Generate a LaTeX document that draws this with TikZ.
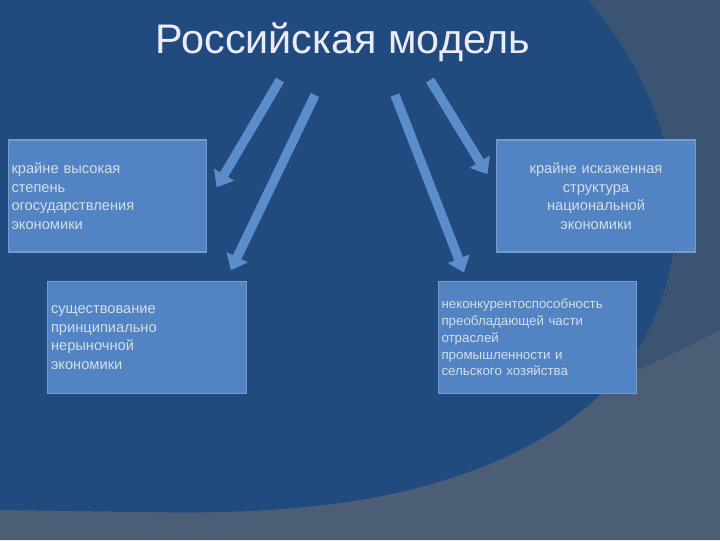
\documentclass[tikz,border=0pt]{standalone}
\usepackage{fontspec}
\setmainfont{Liberation Sans}
\usetikzlibrary{arrows.meta}
\definecolor{bgblue}{HTML}{214A7E}
\definecolor{slate}{HTML}{3C5473}
\definecolor{slate2}{HTML}{4B5E76}
\definecolor{boxblue}{HTML}{5283C2}
\definecolor{arr}{HTML}{5B8DCB}
\definecolor{txt}{HTML}{D4DEEC}
\tikzset{
  infobox/.style={draw=boxblue!80!white, line width=0.8pt, fill=boxblue, minimum width=149pt, minimum height=84pt, text width=144pt, font=\fontsize{11pt}{14pt}\selectfont, text=txt, inner sep=2pt},
  bigarrow/.style={draw=arr, line width=7pt, -{Triangle[width=17pt,length=11pt]}, shorten >=-2pt}
}
\begin{document}
\begin{tikzpicture}[x=0.75pt,y=-0.75pt]
\useasboundingbox (0,0) rectangle (720,540);
\fill[slate] (0,0) rectangle (720,540);
\fill[slate2] (0,540) -- (0,505) .. controls (300,505) and (550,420) .. (720,330) -- (720,540) -- cycle;
\fill[bgblue] (0,0) -- (588,0) .. controls (650,70) and (690,180) .. (672,260)
  .. controls (655,350) and (600,410) .. (520,450)
  .. controls (420,500) and (300,515) .. (150,512) -- (0,510) -- cycle;
\node[font=\fontsize{31pt}{34pt}\selectfont, text=white!92!blue] (title) at (343,42) {Российская модель};
\node[infobox, align=left] (b1) at (107.5,196) {крайне высокая\\степень\\огосударствления\\экономики};
\node[infobox, align=left] (b2) at (147,337.5) {существование\\принципиально\\нерыночной\\экономики};
\node[infobox, align=center] (b3) at (596,196) {крайне искаженная\\структура\\национальной\\экономики};
\node[infobox, align=left, font=\fontsize{10pt}{12.5pt}\selectfont] (b4) at (537.5,337.5) {неконкурентоспособность\\преобладающей части\\отраслей\\промышленности и\\сельского хозяйства};
\coordinate (s1) at (280,80); \coordinate (e1) at (218,185);
\coordinate (s2) at (315,95); \coordinate (e2) at (232,268);
\coordinate (s3) at (395,95); \coordinate (e3) at (463,270);
\coordinate (s4) at (430,80); \coordinate (e4) at (486,172);
\draw[bigarrow] (s1) -- (e1);
\draw[bigarrow] (s2) -- (e2);
\draw[bigarrow] (s3) -- (e3);
\draw[bigarrow] (s4) -- (e4);
\end{tikzpicture}
\end{document}
